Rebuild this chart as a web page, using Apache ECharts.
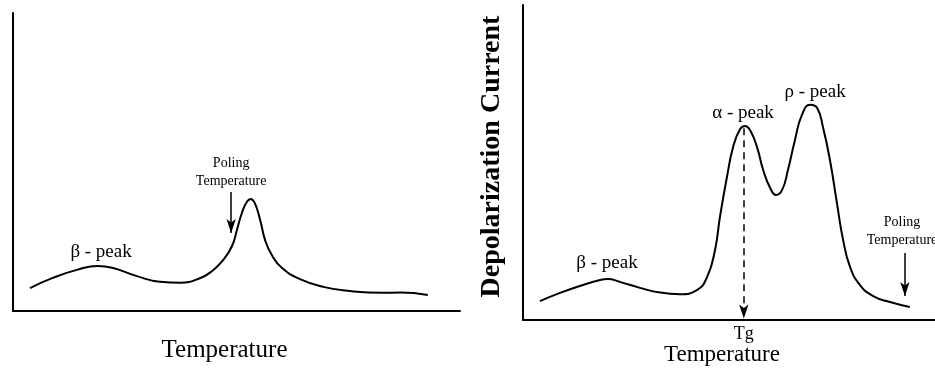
<!DOCTYPE html>
<html>
<head>
<meta charset="utf-8">
<script src="https://cdn.jsdelivr.net/npm/echarts@6/dist/echarts.min.js"></script>
<style>
  html, body { margin: 0; padding: 0; background: #fff; }
  #chart { width: 935px; height: 379px; }
</style>
</head>
<body>
<div id="chart"></div>
<script>
// left panel: poled sample (arbitrary units)
const leftTemp = [3.8, 8.9, 14.3, 19.0, 22.4, 27.7, 32.9, 37.4, 41.8, 44.7, 47.0, 49.0, 50.1, 51.2, 52.3, 53.2, 54.1, 55.3, 56.4, 57.9, 60.2, 64.2, 69.4, 75.4, 82.8, 86.6, 92.8];
const leftCurrent = [7.7, 11.1, 13.8, 15.1, 14.4, 11.7, 9.8, 9.5, 11.0, 13.6, 17.1, 21.8, 27.2, 32.9, 36.6, 37.6, 36.2, 30.5, 23.8, 18.8, 14.4, 10.7, 8.1, 6.7, 6.1, 6.2, 5.4];

// right panel: depolarization current vs temperature
const rightTemp = [4.1, 9.0, 13.8, 18.7, 20.6, 23.5, 28.4, 33.3, 38.1, 42.2, 44.7, 46.6, 47.8, 49.5, 51.0, 52.7, 53.9, 55.1, 56.8, 58.3, 60.0, 61.4, 62.9, 64.3, 66.0, 67.7, 69.7, 71.4, 72.8, 74.5, 76.2, 77.7, 79.4, 81.8, 85.0, 89.1, 93.9];
const rightCurrent = [6.0, 8.6, 10.8, 12.7, 13.0, 12.1, 10.2, 8.7, 8.2, 9.5, 13.7, 22.2, 32.7, 45.4, 54.9, 60.6, 61.6, 60.3, 54.9, 47.6, 41.9, 39.7, 41.3, 47.6, 57.1, 65.1, 68.3, 67.3, 61.3, 50.8, 37.1, 25.4, 16.8, 11.1, 7.6, 5.7, 4.1];

const serif = "Liberation Serif";
const tgTemp = 53.6;
const tgPeak = 60.9;

function axisBase() {
  return {
    type: "value",
    min: 0,
    max: 100,
    axisLine: { show: true, onZero: false, lineStyle: { color: "#000", width: 2 } },
    axisTick: { show: false },
    axisLabel: { show: false },
    splitLine: { show: false },
  };
}

function textPoint(x, y, text, size, labelExtra) {
  return {
    coord: [x, y],
    symbolSize: 0,
    label: Object.assign({
      show: true,
      position: "inside",
      formatter: text,
      fontFamily: serif,
      fontSize: size,
      color: "#000",
    }, labelExtra || {}),
  };
}

const chart = echarts.init(document.getElementById("chart"));
chart.setOption({
  animation: false,
  grid: [
    { left: 13, top: 13, width: 447, height: 298 },
    { left: 523, top: 5, width: 412, height: 315 },
  ],
  xAxis: [
    Object.assign(axisBase(), {
      gridIndex: 0,
      name: "Temperature",
      nameLocation: "middle",
      nameGap: 27,
      nameTextStyle: { fontFamily: serif, fontSize: 25, color: "#000", padding: [0, 24, 0, 0] },
    }),
    Object.assign(axisBase(), {
      gridIndex: 1,
      name: "Temperature",
      nameLocation: "middle",
      nameGap: 23,
      nameTextStyle: { fontFamily: serif, fontSize: 23, color: "#000", padding: [0, 14, 0, 0] },
    }),
  ],
  yAxis: [
    Object.assign(axisBase(), { gridIndex: 0 }),
    Object.assign(axisBase(), {
      gridIndex: 1,
      name: "Depolarization Current",
      nameLocation: "middle",
      nameGap: 17,
      nameTextStyle: { fontFamily: serif, fontSize: 28, fontWeight: "bold", color: "#000", padding: [0, 0, 0, 12] },
    }),
  ],
  series: [
    {
      type: "line",
      xAxisIndex: 0,
      yAxisIndex: 0,
      data: leftTemp.map((t, i) => [t, leftCurrent[i]]),
      smooth: 0.5,
      symbol: "none",
      lineStyle: { color: "#000", width: 2 },
      markPoint: {
        data: [
          textPoint(19.7, 19.8, "β - peak", 19),
          textPoint(48.8, 46.6, "Poling\nTemperature", 14, { lineHeight: 18 }),
        ],
      },
      markLine: {
        symbol: ["none", "arrow"],
        symbolSize: [7, 14],
        label: { show: false },
        lineStyle: { color: "#000", width: 1.5, type: "solid" },
        data: [[{ coord: [48.8, 39.9] }, { coord: [48.8, 26.2] }]],
      },
    },
    {
      type: "line",
      xAxisIndex: 1,
      yAxisIndex: 1,
      data: rightTemp.map((t, i) => [t, rightCurrent[i]]),
      smooth: 0.5,
      symbol: "none",
      lineStyle: { color: "#000", width: 2 },
      markPoint: {
        data: [
          textPoint(20.4, 18.1, "β - peak", 19),
          textPoint(53.4, 65.7, "α - peak", 19),
          textPoint(70.9, 72.4, "ρ - peak", 19),
          textPoint(tgTemp, 0, "Tg", 18, { offset: [0, 14] }),
          textPoint(92.0, 28.3, "Poling\nTemperature", 14, { lineHeight: 18 }),
        ],
      },
      markLine: {
        symbol: ["none", "arrow"],
        symbolSize: [7, 14],
        label: { show: false },
        data: [
          [
            { coord: [tgTemp, tgPeak], lineStyle: { color: "#000", width: 1.5, type: [7, 5] } },
            { coord: [tgTemp, 0.5] },
          ],
          [
            { coord: [92.7, 21.3], lineStyle: { color: "#000", width: 1.5, type: "solid" } },
            { coord: [92.7, 7.6] },
          ],
        ],
      },
    },
  ],
});
</script>
</body>
</html>
